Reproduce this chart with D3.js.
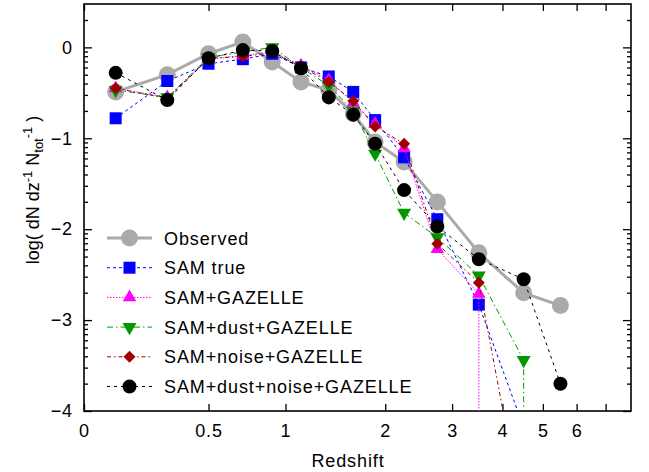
<!DOCTYPE html>
<html>
<head>
<meta charset="utf-8">
<script src="https://cdn.jsdelivr.net/npm/d3@7"></script>
<style>
  body { margin: 0; background: #fff; }
  text { font-family: "Liberation Sans", Arial, sans-serif; letter-spacing: 0.9px; fill: #000; }
</style>
</head>
<body>
<div id="plot"></div>
<script>
// redshift bins
var zBins = [0.1, 0.3, 0.5, 0.7, 0.9, 1.125, 1.375, 1.625, 1.875, 2.25, 2.75, 3.5, 4.5, 5.5];

// log(dN/dz / Ntot) per bin, -Infinity = empty bin
var observed     = [-0.49, -0.30, -0.07, 0.06, -0.16, -0.38, -0.47, -0.73, -1.04, -1.26, -1.70, -2.26, -2.70, -2.84];
var samTrue      = [-0.78, -0.37, -0.18, -0.13, -0.07, -0.22, -0.32, -0.49, -0.80, -1.21, -1.89, -2.83, -4.18];
var samGazelle   = [-0.45, -0.55, -0.13, -0.09, -0.05, -0.20, -0.36, -0.61, -0.84, -1.11, -2.22, -2.71, -Infinity];
var samDust      = [-0.47, -0.55, -0.11, -0.05, 0.00, -0.22, -0.42, -0.70, -1.17, -1.82, -2.09, -2.51, -3.44, -Infinity];
var samNoise     = [-0.45, -0.56, -0.12, -0.10, -0.06, -0.21, -0.38, -0.59, -0.87, -1.06, -2.16, -2.59, -5.2];
var samDustNoise = [-0.28, -0.58, -0.12, -0.03, -0.04, -0.23, -0.55, -0.74, -1.06, -1.57, -1.97, -2.33, -2.55, -3.70];

var seriesNames = ["Observed", "SAM true", "SAM+GAZELLE", "SAM+dust+GAZELLE", "SAM+noise+GAZELLE", "SAM+dust+noise+GAZELLE"];
var seriesValues = [observed, samTrue, samGazelle, samDust, samNoise, samDustNoise];

var xTickVals = [0, 0.5, 1, 2, 3, 4, 5, 6, 7];
var xTickLabels = ["0", "0.5", "1", "2", "3", "4", "5", "6", ""];
var yTickVals = [-4, -3, -2, -1, 0];

// styles per series
var styles = [
    { color: "#aaaaaa", width: 3, dash: null, symbol: d3.symbolCircle, size: 227, rot: 0 },
    { color: "#0000ff", width: 1, dash: "3,3", symbol: d3.symbolSquare, size: 144, rot: 0 },
    { color: "#ff00ff", width: 1, dash: "1.5,1.5", symbol: d3.symbolTriangle, size: 80, rot: 0 },
    { color: "#009900", width: 1, dash: "6,3,1.5,3", symbol: d3.symbolTriangle, size: 85, rot: 180 },
    { color: "#a00000", width: 1, dash: "4,3,1.5,3", symbol: d3.symbolSquare, size: 72, rot: 45 },
    { color: "#000000", width: 1, dash: "3,4", symbol: d3.symbolCircle, size: 154, rot: 0 }
];

(function () {
    var W = 649, H = 472;
    var pLeft = 84, pRight = 631, pTop = 4, pBottom = 411;

    var svg = d3.select("#plot").append("svg")
        .attr("width", W)
        .attr("height", H);

    // x axis is log(z + 0.6)
    var xScale = d3.scaleLog().domain([0.6, 8.6]).range([pLeft, pRight]);
    var xMap = function (z) { return xScale(z + 0.6); };
    var yScale = d3.scaleLinear().domain([-4, Math.log10(3)]).range([pBottom, pTop]);

    // minor y ticks, log spaced inside each unit
    var yMinor = [];
    for (var m = -4; m <= 0; m++) {
        for (var k = 2; k <= 9; k++) {
            var v = m + Math.log10(k);
            if (v < Math.log10(3)) yMinor.push(v);
        }
    }

    svg.append("defs").append("clipPath").attr("id", "clip")
        .append("rect")
        .attr("x", pLeft).attr("y", pTop)
        .attr("width", pRight - pLeft).attr("height", pBottom - pTop);

    // bottom axis
    svg.append("g")
        .attr("transform", "translate(0," + pBottom + ")")
        .call(d3.axisBottom(xScale)
            .tickValues(xTickVals.map(function (z) { return z + 0.6; }))
            .tickFormat(function (d, i) { return xTickLabels[i]; })
            .tickSizeInner(-7).tickSizeOuter(0).tickPadding(13));

    // top axis ticks
    svg.append("g")
        .attr("transform", "translate(0," + pTop + ")")
        .call(d3.axisTop(xScale)
            .tickValues(xTickVals.map(function (z) { return z + 0.6; }))
            .tickFormat("")
            .tickSizeInner(-7).tickSizeOuter(0));

    // left axis
    svg.append("g")
        .attr("transform", "translate(" + pLeft + ",0)")
        .call(d3.axisLeft(yScale)
            .tickValues(yTickVals)
            .tickFormat(d3.format("d"))
            .tickSizeInner(-8).tickSizeOuter(0).tickPadding(11));
    svg.append("g")
        .attr("transform", "translate(" + pLeft + ",0)")
        .call(d3.axisLeft(yScale).tickValues(yMinor).tickFormat("")
            .tickSizeInner(-4).tickSizeOuter(0));

    // right axis
    svg.append("g")
        .attr("transform", "translate(" + pRight + ",0)")
        .call(d3.axisRight(yScale).tickValues(yTickVals).tickFormat("")
            .tickSizeInner(-8).tickSizeOuter(0));
    svg.append("g")
        .attr("transform", "translate(" + pRight + ",0)")
        .call(d3.axisRight(yScale).tickValues(yMinor).tickFormat("")
            .tickSizeInner(-4).tickSizeOuter(0));

    svg.selectAll(".domain").remove();
    svg.selectAll(".tick line").attr("stroke", "#000").attr("stroke-width", 1.3);
    svg.selectAll(".tick text")
        .style("font-family", "'Liberation Sans', Arial, sans-serif")
        .style("font-size", "18px");

    // frame
    svg.append("rect")
        .attr("x", pLeft).attr("y", pTop)
        .attr("width", pRight - pLeft).attr("height", pBottom - pTop)
        .attr("fill", "none").attr("stroke", "#000").attr("stroke-width", 1.6);

    // lines
    var line = d3.line()
        .x(function (d) { return xMap(d.z); })
        .y(function (d) { return yScale(isFinite(d.v) ? d.v : -1000); });

    var plot = svg.append("g").attr("clip-path", "url(#clip)");

    seriesValues.forEach(function (vals, i) {
        var st = styles[i];
        var pts = vals.map(function (v, j) { return { z: zBins[j], v: v }; });

        plot.append("path")
            .datum(pts)
            .attr("d", line)
            .attr("fill", "none")
            .attr("stroke", st.color)
            .attr("stroke-width", st.width)
            .attr("stroke-dasharray", st.dash);

        plot.selectAll(".pt" + i)
            .data(pts.filter(function (d) { return isFinite(d.v) && d.v >= -4; }))
            .enter().append("path")
            .attr("class", "pt" + i)
            .attr("d", d3.symbol().type(st.symbol).size(st.size))
            .attr("transform", function (d) {
                return "translate(" + xMap(d.z) + "," + yScale(d.v) + ") rotate(" + st.rot + ")";
            })
            .attr("fill", st.color);
    });

    // legend
    var legend = svg.append("g");
    seriesNames.forEach(function (name, i) {
        var st = styles[i];
        var ly = 238 + i * 29.7;
        legend.append("line")
            .attr("x1", 107).attr("x2", 152)
            .attr("y1", ly).attr("y2", ly)
            .attr("stroke", st.color)
            .attr("stroke-width", st.width)
            .attr("stroke-dasharray", st.dash);
        legend.append("path")
            .attr("d", d3.symbol().type(st.symbol).size(st.size))
            .attr("transform", "translate(129.5," + ly + ") rotate(" + st.rot + ")")
            .attr("fill", st.color);
        legend.append("text")
            .attr("x", 164)
            .attr("y", ly + 6.5)
            .style("font-size", "18px")
            .text(name);
    });

    // axis titles
    svg.append("text")
        .attr("x", 348)
        .attr("y", 467)
        .attr("text-anchor", "middle")
        .style("font-size", "18px")
        .text("Redshift");

    var yl = svg.append("text")
        .attr("transform", "translate(39,190) rotate(-90)")
        .attr("text-anchor", "middle")
        .style("font-size", "18px")
        .style("letter-spacing", "0px");
    yl.append("tspan").text("log( dN dz");
    yl.append("tspan").attr("dy", -7).style("font-size", "13px").text("-1");
    yl.append("tspan").attr("dy", 7).text(" N");
    yl.append("tspan").attr("dy", 4).style("font-size", "13px").text("tot");
    yl.append("tspan").attr("dy", -11).style("font-size", "13px").text("-1");
    yl.append("tspan").attr("dy", 7).text("  )");
})();
</script>
</body>
</html>
